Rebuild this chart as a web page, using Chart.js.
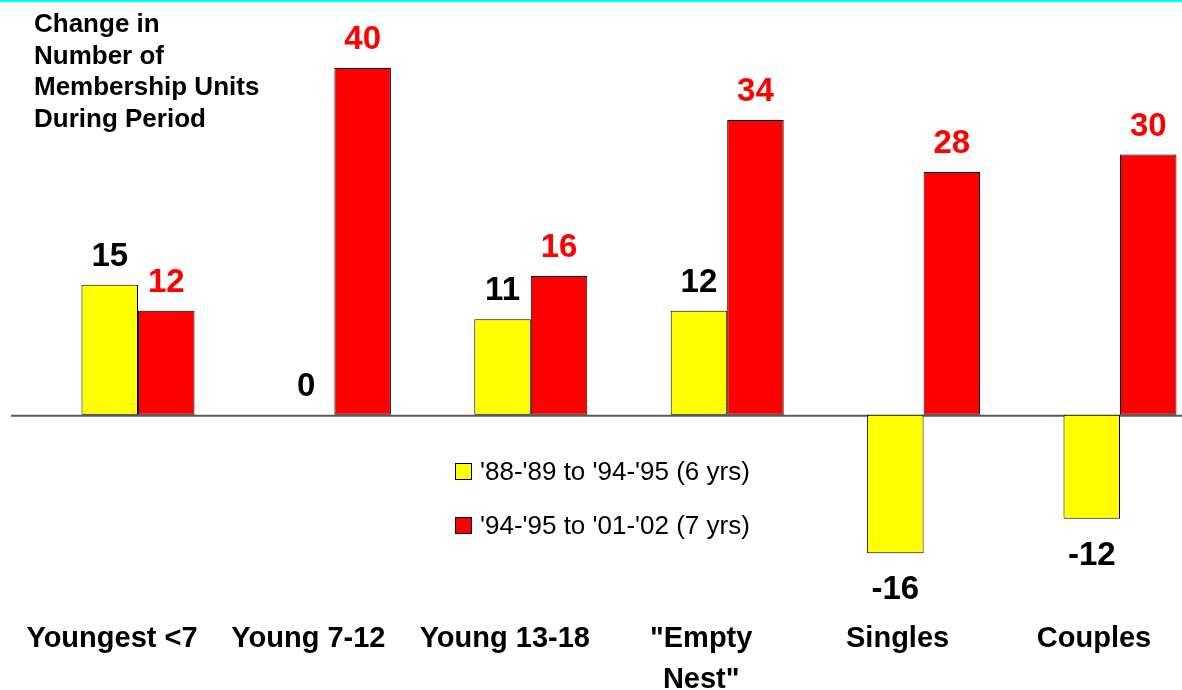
<!DOCTYPE html>
<html>
<head>
<meta charset="utf-8">
<script src="https://cdn.jsdelivr.net/npm/chart.js@4/dist/chart.umd.min.js"></script>
<style>
  html, body { margin: 0; padding: 0; background: #ffffff; overflow: hidden; width: 1182px; height: 690px; }
  #wrap { position: absolute; left: 0; top: 0; width: 1260px; height: 730px; }
  #warm { position: absolute; left: -9999px; top: 0; font-family: 'Liberation Sans', Arial, sans-serif; }
</style>
</head>
<body>
<span id="warm"><b>Youngest</b> Youngest</span>
<div id="wrap"><canvas id="c"></canvas></div>
<script>
// Membership unit change per household type, two periods
const categories = ['Youngest <7', 'Young 7-12', 'Young 13-18', ['"Empty', 'Nest"'], 'Singles', 'Couples'];
const seriesNames = ["'88-'89 to '94-'95 (6 yrs)", "'94-'95 to '01-'02 (7 yrs)"];
const change8895 = [15, 0, 11, 12, -16, -12];
const change9502 = [12, 40, 16, 34, 28, 30];
const titleLines = ['Change in', 'Number of', 'Membership Units', 'During Period'];
const seriesFill = ['#ffff00', '#ff0000'];
const valueColors = ['#000000', '#ff0000'];

const FONT = "'Liberation Sans', Arial, sans-serif";

// Slide decorations: top rule, zero line, axis caption, value labels, legend box
const decor = {
  id: 'decor',
  beforeDatasetsDraw(chart) {
    const ctx = chart.ctx;
    const y0 = chart.scales.y.getPixelForValue(0);
    ctx.save();
    ctx.fillStyle = '#00ffff';
    ctx.fillRect(0, 0, chart.width, 2);
    ctx.strokeStyle = '#5a5a5a';
    ctx.lineWidth = 2;
    ctx.beginPath();
    ctx.moveTo(11, y0 + 1);
    ctx.lineTo(chart.width, y0 + 1);
    ctx.stroke();

    ctx.fillStyle = '#000000';
    ctx.font = 'bold 26px ' + FONT;
    ctx.textAlign = 'left';
    ctx.textBaseline = 'alphabetic';
    titleLines.forEach((t, i) => ctx.fillText(t, 34, 32 + i * 31.7));
    ctx.restore();
  },
  afterDatasetsDraw(chart) {
    const ctx = chart.ctx;
    ctx.save();
    ctx.font = 'bold 33px ' + FONT;
    ctx.textAlign = 'center';
    ctx.textBaseline = 'alphabetic';
    chart.data.datasets.forEach((ds, di) => {
      const meta = chart.getDatasetMeta(di);
      meta.data.forEach((bar, i) => {
        const v = ds.data[i];
        ctx.fillStyle = valueColors[di];
        const y = v >= 0 ? bar.y - 19 : bar.y + 46;
        ctx.fillText(String(v), bar.x, y);
      });
    });

    // legend
    ctx.font = '26px ' + FONT;
    ctx.textAlign = 'left';
    chart.data.datasets.forEach((ds, di) => {
      const top = 463 + di * 54;
      ctx.fillStyle = ds.backgroundColor;
      ctx.fillRect(455, top, 17, 17);
      ctx.strokeStyle = '#000000';
      ctx.lineWidth = 1;
      ctx.strokeRect(455.5, top + 0.5, 16, 16);
      ctx.fillStyle = '#000000';
      ctx.fillText(ds.label, 480, top + 17);
    });
    ctx.restore();
  }
};

function build() {
  new Chart(document.getElementById('c'), {
    type: 'bar',
    data: {
      labels: categories,
      datasets: [
        { label: seriesNames[0], data: change8895, backgroundColor: seriesFill[0] },
        { label: seriesNames[1], data: change9502, backgroundColor: seriesFill[1] }
      ]
    },
    options: {
      responsive: true,
      maintainAspectRatio: false,
      animation: false,
      devicePixelRatio: 1,
      layout: { padding: { top: 24.6, left: 39.8, right: 41.8, bottom: 0 } },
      datasets: {
        bar: {
          borderColor: '#000000',
          borderWidth: 1,
          borderSkipped: false,
          barPercentage: 1.0,
          categoryPercentage: 0.5754
        }
      },
      plugins: {
        legend: { display: false },
        tooltip: { enabled: false },
        title: { display: false }
      },
      scales: {
        x: {
          display: true,
          grid: { display: false, drawTicks: false },
          border: { display: false },
          ticks: {
            color: '#000000',
            padding: 30,
            labelOffset: -26,
            maxRotation: 0,
            autoSkip: false,
            font: { family: FONT, size: 29, weight: 'bold', lineHeight: 41 / 29 }
          }
        },
        y: {
          display: false,
          min: -20,
          max: 45
        }
      }
    },
    plugins: [decor]
  });
}

Promise.all([
  document.fonts.load("bold 28px 'Liberation Sans'"),
  document.fonts.load("25px 'Liberation Sans'")
]).then(build, build);
</script>
</body>
</html>
